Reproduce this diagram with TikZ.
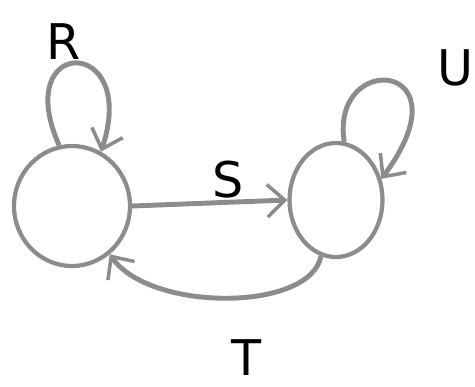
\documentclass[tikz,border=0pt]{standalone}
\usepackage{fontspec}
\setmainfont{DejaVu Sans}
\usetikzlibrary{arrows.meta, shapes.geometric}
\tikzset{
  % states
  state/.style = {draw=black!45, ellipse, line width=2.4pt, inner sep=0pt},
  % labels
  lbl/.style   = {font=\fontsize{28}{28}\selectfont, text=black, inner sep=0pt},
  % arrows
  edge/.style  = {draw=black!45, line width=2.8pt,
                  -{Straight Barb[length=3.5mm, width=6.5mm, line width=2pt]}},
}
\begin{document}
\begin{tikzpicture}[x=0.02cm, y=-0.02cm]
\useasboundingbox (0,0) rectangle (475,386);

% ---------- States ----------
\node[state, minimum width=2.32cm, minimum height=2.4cm]  (left)  at (72,206)  {};
\node[state, minimum width=1.86cm, minimum height=2.28cm] (right) at (336,200) {};

% ---------- Self loops ----------
\draw[edge] (left.102) .. controls (10,35) and (140,35) .. (left.62);
\draw[edge] (right.82) .. controls (330,50) and (470,60) .. (right.25);

% ---------- Transitions ----------
\draw[edge] (left.east) -- (right.west);
\draw[edge] (right.-105) .. controls (310,312) and (150,312) .. (left.-52);

% ---------- Labels ----------
\node[lbl] (labr) at (64,42)   {R};
\node[lbl] (labs) at (228,180) {S};
\node[lbl] (labu) at (455,68)  {U};
\node[lbl] (labt) at (247,358) {T};

\end{tikzpicture}
\end{document}
